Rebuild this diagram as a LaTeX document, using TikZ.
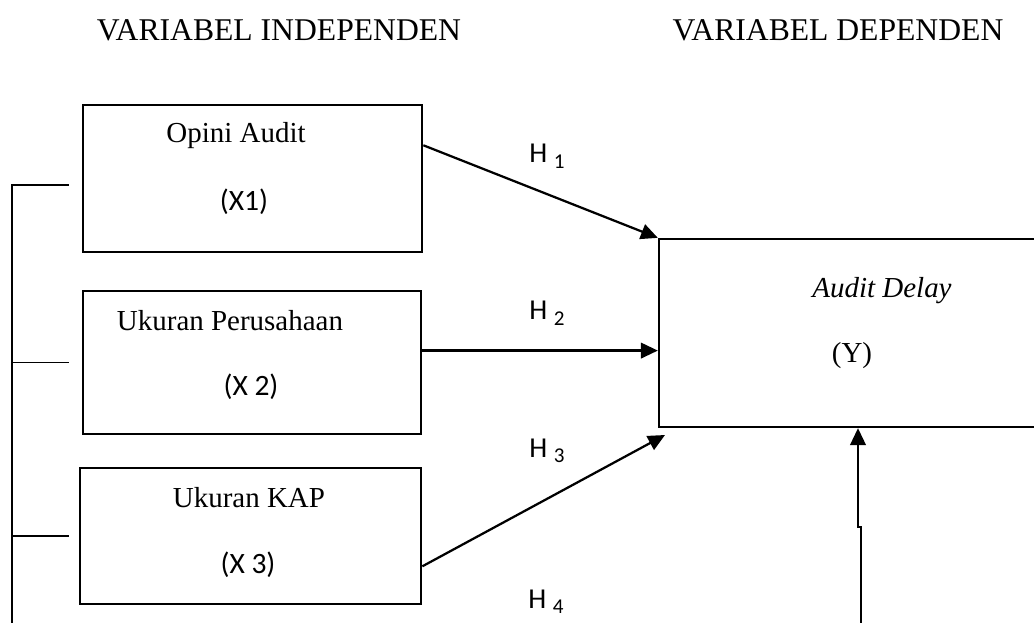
\documentclass[tikz,border=0pt]{standalone}
\usepackage{fontspec}
\setmainfont{Liberation Serif}
\setsansfont{Carlito}
\usetikzlibrary{arrows.meta}

\newcommand{\hyp}[1]{H {\fontsize{15pt}{15pt}\selectfont\raisebox{-3.8pt}{#1}}}

\begin{document}
\begin{tikzpicture}[x=0.025cm,y=-0.025cm,
    >={Triangle[length=12pt,width=11pt]}, % filled arrowheads
    varbox/.style={draw,line width=1.9pt,inner sep=0pt},
    varname/.style={anchor=base,inner sep=0pt,font=\fontsize{20.6pt}{24pt}\selectfont},
    varcode/.style={inner sep=0pt,font=\sffamily\fontsize{21pt}{24pt}\selectfont},
    head/.style={anchor=base,inner sep=0pt,font=\fontsize{22.5pt}{26pt}\selectfont},
    hlab/.style={anchor=base west,inner sep=0pt,font=\sffamily\fontsize{20.5pt}{22pt}\selectfont},
    arr/.style={->,line width=1.6pt},
    brk/.style={line width=0.8pt}]

  \useasboundingbox (0,0) rectangle (1034,623);
  \clip (0,0) rectangle (1034,623);

  \node[head](hind) at (279,41) {VARIABEL INDEPENDEN};
  \node[head](hdep) at (838,41) {VARIABEL DEPENDEN};

  \node[varbox,minimum width=8.475cm,minimum height=3.675cm](x1) at (252.5,178.5) {};
  \node[varbox,minimum width=8.45cm,minimum height=3.575cm](x2) at (252,362.5) {};
  \node[varbox,minimum width=8.525cm,minimum height=3.4cm](x3) at (250.5,536) {};
  \node[varbox,line width=1.6pt,minimum width=9.95cm,minimum height=4.7cm](dep) at (858,333) {};

  \node[varname](x1name) at (236,143) {Opini Audit};
  \node[varcode](x1code) at (244,202) {(X1)};
  \node[varname](x2name) at (230,330) {Ukuran Perusahaan};
  \node[varcode](x2code) at (251,387) {(X 2)};
  \node[varname](x3name) at (249,507) {Ukuran KAP};
  \node[varcode](x3code) at (248,565) {(X 3)};
  \node[varname](depname) at (882,298) {\textit{Audit Delay}};
  \node[varname](depcode) at (852,362) {(Y)};

  \draw[arr] (x1.11) -- (dep.north west);
  \draw[arr] (x2.4) -- (x2.4 -| dep.west);
  \coordinate (h3tip) at (665,435);
  \draw[arr] (x3.-10) -- (h3tip);
  \coordinate (yfoot) at (861,623);
  \draw[arr] (yfoot) -- ++(0,-96) -| (dep.south);

  \node[hlab](h1) at (529,163) {\hyp{1}};
  \node[hlab](h2) at (529,320) {\hyp{2}};
  \node[hlab](h3) at (529,457) {\hyp{3}};
  \node[hlab](h4) at (528,608) {\hyp{4}};

  % bracket on the left
  \coordinate (lt) at (12,185);
  \coordinate (lb) at (12,623);
  \draw[brk] (lb) -- (lt) -- ++(57,0);
  \draw[brk] (lt |- x2.west) -- ++(57,0);
  \draw[brk] (lt |- x3.west) -- ++(57,0);

\end{tikzpicture}
\end{document}
